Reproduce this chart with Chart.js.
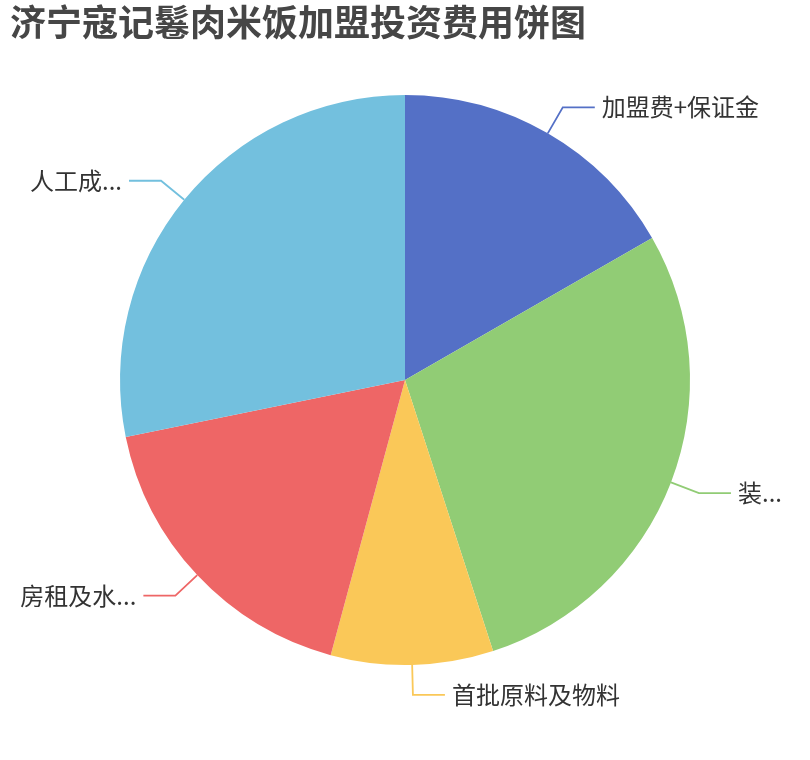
<!DOCTYPE html>
<html>
<head>
<meta charset="utf-8">
<script src="https://cdn.jsdelivr.net/npm/chart.js@4.4.0/dist/chart.umd.min.js"></script>
<style>
  html, body { margin: 0; padding: 0; background: #fff; }
  #chart { width: 810px; height: 760px; }
</style>
</head>
<body>
<div id="chart"><canvas id="pie"></canvas></div>
<script>
const titleText = "济宁寇记鬈肉米饭加盟投资费用饼图";
const labels = ["加盟费+保证金", "装...", "首批原料及物料", "房租及水...", "人工成..."];
const values = [16.7, 28.3, 9.2, 17.6, 28.2];
const colors = ["#5470c6", "#91cc75", "#fac858", "#ee6666", "#73c0de"];

const labelFont = '24px "Microsoft YaHei", "Noto Sans CJK SC", sans-serif';

// outside labels with leader lines, like the echarts pie
const outsideLabels = {
  id: "outsideLabels",
  afterDatasetsDraw(chart) {
    const ctx = chart.ctx;
    const meta = chart.getDatasetMeta(0);
    meta.data.forEach((arc, i) => {
      const { x, y, startAngle, endAngle, outerRadius } = arc.getProps(
        ["x", "y", "startAngle", "endAngle", "outerRadius"], true);
      const mid = (startAngle + endAngle) / 2;
      const cos = Math.cos(mid), sin = Math.sin(mid);
      const p0 = { x: x + outerRadius * cos, y: y + outerRadius * sin };
      const p1 = { x: p0.x + 30 * cos, y: p0.y + 30 * sin };
      const side = cos >= 0 ? 1 : -1;
      const p2 = { x: p1.x + side * 32, y: p1.y };

      ctx.save();
      ctx.strokeStyle = colors[i];
      ctx.lineWidth = 1.8;
      ctx.beginPath();
      ctx.moveTo(p0.x, p0.y);
      ctx.lineTo(p1.x, p1.y);
      ctx.lineTo(p2.x, p2.y);
      ctx.stroke();

      ctx.fillStyle = "#333";
      ctx.font = labelFont;
      ctx.textBaseline = "middle";
      ctx.textAlign = side > 0 ? "left" : "right";
      ctx.fillText(chart.data.labels[i], p2.x + side * 7, p2.y);
      ctx.restore();
    });
  }
};

new Chart(document.getElementById("pie"), {
  type: "pie",
  data: {
    labels: labels,
    datasets: [{
      data: values,
      backgroundColor: colors,
      borderWidth: 0,
      hoverOffset: 0
    }]
  },
  options: {
    responsive: true,
    maintainAspectRatio: false,
    animation: false,
    layout: { padding: { left: 10, right: 10, top: 0, bottom: 95 } },
    plugins: {
      legend: { display: false },
      tooltip: { enabled: false },
      title: {
        display: true,
        text: titleText,
        align: "start",
        color: "#464646",
        font: { size: 36, weight: "bold", family: '"Microsoft YaHei", "Noto Sans CJK SC", sans-serif', lineHeight: 1.2 },
        padding: { top: 0.5, bottom: 51.3 }
      }
    }
  },
  plugins: [outsideLabels]
});
</script>
</body>
</html>
